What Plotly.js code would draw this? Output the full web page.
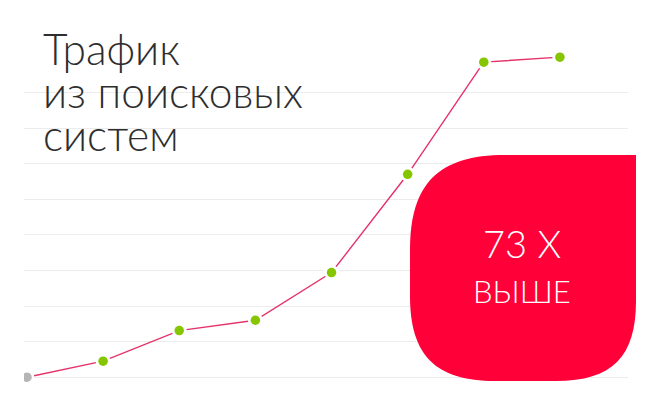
<!DOCTYPE html>
<html>
<head>
<meta charset="utf-8">
<script src="https://cdn.plot.ly/plotly-3.0.1.min.js"></script>
<style>html,body{margin:0;padding:0;background:#fff;}#chart{width:656px;height:411px;}</style>
</head>
<body>
<div id="chart"></div>
<script>
// ---- data ----
var periods = [0, 1, 2, 3, 4, 5, 6, 7];
var traffic = [0, 0.45, 1.31, 1.6, 2.94, 5.7, 8.85, 8.99];
var gridTicks = [0, 1, 2, 3, 4, 5, 6, 7, 8];
var titleLines = ["Трафик", "из поисковых", "систем"];
var badgeLines = ["73 X", "ВЫШЕ"];

// ---- layout geometry ----
var W = 656, H = 411;
var M = {l: 24, r: 28, t: 39, b: 16};
var pw = W - M.l - M.r, ph = H - M.t - M.b;
function px(x) { return (x - M.l) / pw; }
function py(y) { return (H - M.b - y) / ph; }

// rounded "leaf" badge path (pixel geometry -> paper coords)
function badgePath() {
  var L = 410, R = 636, T = 155, B = 381;
  var a = 0.7;
  function p(x, y) { return px(x).toFixed(5) + ',' + py(y).toFixed(5); }
  var rTL = 95, rBL = 85, rBR = 80;
  var d = '';
  d += 'M ' + p(R, T);
  d += ' L ' + p(R, B - rBR);
  d += ' C ' + p(R, B - rBR + a * rBR) + ' ' + p(R - rBR + a * rBR, B) + ' ' + p(R - rBR, B);
  d += ' L ' + p(L + rBL, B);
  d += ' C ' + p(L + rBL - a * rBL, B) + ' ' + p(L, B - rBL + a * rBL) + ' ' + p(L, B - rBL);
  d += ' L ' + p(L, T + rTL);
  d += ' C ' + p(L, T + rTL - a * rTL) + ' ' + p(L + rTL - a * rTL, T) + ' ' + p(L + rTL, T);
  d += ' Z';
  return d;
}

var markerColors = traffic.map(function (v, i) { return i === 0 ? '#b5b5b5' : '#86c600'; });

var traces = [
  {
    x: periods, y: traffic, type: 'scatter', mode: 'lines+markers',
    line: {color: '#e5336a', width: 1.4},
    marker: {color: '#ffffff', size: 15},
    hoverinfo: 'skip', showlegend: false
  },
  {
    x: periods, y: traffic, type: 'scatter', mode: 'markers',
    marker: {color: markerColors, size: 9.5},
    hoverinfo: 'skip', showlegend: false
  }
];

var font = "Lato, Roboto, sans-serif";
var annotations = [];
var titleY = [48, 91, 134];
titleLines.forEach(function (t, i) {
  annotations.push({
    xref: 'paper', yref: 'paper', x: px(41), y: py(titleY[i]),
    xanchor: 'left', yanchor: 'middle', showarrow: false, text: t,
    font: {family: font, size: 42.5, color: '#2e2e2e', weight: 300}
  });
});
var badgeY = [243, 291], badgeSize = [38, 31];
badgeLines.forEach(function (t, i) {
  annotations.push({
    xref: 'paper', yref: 'paper', x: px(522), y: py(badgeY[i]),
    xanchor: 'center', yanchor: 'middle', showarrow: false, text: t,
    font: {family: font, size: badgeSize[i], color: '#ffffff', weight: 300}
  });
});

var layout = {
  width: W, height: H,
  margin: M,
  paper_bgcolor: '#ffffff', plot_bgcolor: '#ffffff',
  xaxis: {range: [-0.039, 7.894], showgrid: false, zeroline: false, showticklabels: false, showline: false, ticks: ''},
  yaxis: {range: [-0.5, 9.5], tickvals: gridTicks, showticklabels: false, showgrid: true,
          gridcolor: '#ececec', gridwidth: 1, zeroline: false, showline: false, ticks: ''},
  shapes: [{type: 'path', xref: 'paper', yref: 'paper', path: badgePath(),
            fillcolor: '#ff0038', line: {width: 0}, layer: 'above'}],
  annotations: annotations,
  showlegend: false
};

Plotly.newPlot('chart', traces, layout, {staticPlot: true, displayModeBar: false});
</script>
</body>
</html>
